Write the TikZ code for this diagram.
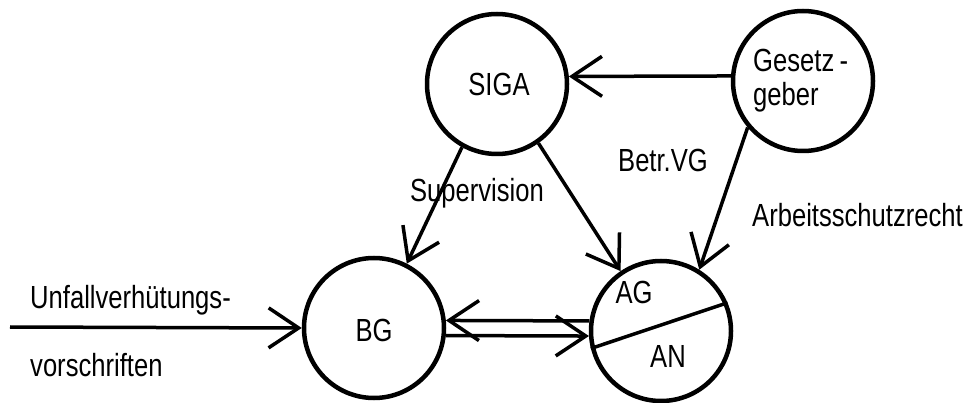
\documentclass[tikz,border=0pt]{standalone}
\usepackage{fontspec}
\setmainfont[FakeStretch=0.8]{Liberation Sans}
\usetikzlibrary{arrows.meta}
\begin{document}
\begin{tikzpicture}[x=1pt,y=-1pt,
  circ/.style={circle,draw,line width=4.5pt,minimum size=140pt,inner sep=0pt},
  lbl/.style={inner sep=0pt,font=\fontsize{32}{34}\selectfont},
  arr/.style={line width=3.5pt,-{Straight Barb[length=30pt,width=40pt,line width=3.5pt]}},
  ln/.style={line width=3.5pt}]
\useasboundingbox (0,0) rectangle (967,403);
\node[circ] (siga) at (497,84) {};
\node[circ] (ges) at (803,81) {};
\node[circ] (bg) at (374,328) {};
\node[circ] (ag) at (661,331) {};
\node[lbl] (tsiga) at (499,84) {SIGA};
\node[lbl,align=left,anchor=west] (tges) at (753,81) {Gesetz\,-\\geber};
\node[lbl] (tbg) at (374,330) {BG};
\node[lbl] (tag) at (634,292) {AG};
\node[lbl] (tan) at (668,356) {AN};
\node[lbl] (betr) at (663,160) {Betr.VG};
\node[lbl] (sup) at (477,193) {Supervision};
\node[lbl,anchor=west] (asr) at (752,215) {Arbeitsschutzrecht};
\node[lbl,anchor=west] (uv1) at (30,300) {Unfallverhütungs-};
\node[lbl,anchor=west] (uv2) at (30,365) {vorschriften};
\coordinate (ustart) at (10,327);
\draw[arr] (ges.176) -- (siga.6);
\draw[arr] (siga.-119) -- (bg.63);
\draw[arr] (siga.-55) -- (ag.124);
\draw[arr] (ges.-140) -- (ag.58);
\draw[arr] (ustart) -- (bg.180);
\draw[arr] (ag.172) -- (bg.6);
\draw[arr] (bg.-6) -- (ag.184);
\draw[ln] (ag.-166) -- (ag.23);
\end{tikzpicture}
\end{document}
